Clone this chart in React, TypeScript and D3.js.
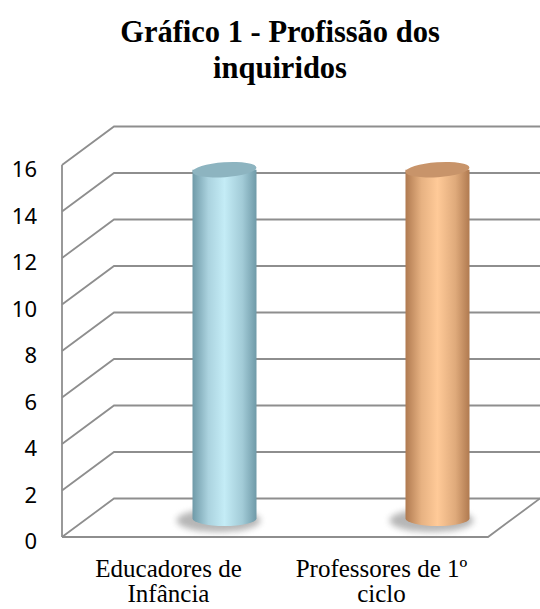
import React from 'react';
import * as d3 from 'd3';

const WIDTH = 540;
const HEIGHT = 609;

const categories = ['Educadores de Infância', 'Professores de 1º ciclo'];
const categoryLines = [
  ['Educadores de', 'Infância'],
  ['Professores de 1º', 'ciclo'],
];
const values = [15, 15];
const yTicks = [0, 2, 4, 6, 8, 10, 12, 14, 16];
const titleLines = ['Gráfico 1 - Profissão dos', 'inquiridos'];

const bodyColors = [
  { edge: '#6f9aa8', mid: '#c4ecf6', top: '#8db4c0' },
  { edge: '#b07a50', mid: '#ffca98', top: '#c8946a' },
];

// front plane of the plot, and the oblique depth offset to the back wall
const FRONT = { left: 62, right: 488, top: 165, bottom: 537 };
const DEPTH = { dx: 52, dy: -38.5 };
// where the cylinders sit in depth
const BAR_SHIFT = { dx: 56, dy: -18.5 };
const BAR_WIDTH = 64;
const ELLIPSE_RY = 7.5;
const GRID = '#8e8e8e';

export default function App() {
  const yScale = d3.scaleLinear().domain([0, 16]).range([FRONT.bottom, FRONT.top]);
  const xScale = d3.scaleBand().domain(categories).range([FRONT.left, FRONT.right]);

  const grid = yTicks.map((t) => {
    const y = yScale(t);
    return (
      <g key={t}>
        <polyline
          points={`${FRONT.left},${y} ${FRONT.left + DEPTH.dx},${y + DEPTH.dy} ${WIDTH},${y + DEPTH.dy}`}
          fill="none"
          stroke={GRID}
          strokeWidth={1.8}
        />
        <text
          x={37}
          y={y + 3}
          textAnchor="end"
          dominantBaseline="central"
          fontFamily="'Noto Sans', 'Open Sans', sans-serif"
          fontSize={22}
          fill="#000"
        >
          {t}
        </text>
      </g>
    );
  });

  const bars = categories.map((c, i) => {
    const cx = (xScale(c) ?? 0) + xScale.bandwidth() / 2 + BAR_SHIFT.dx;
    const yTop = yScale(values[i]) + BAR_SHIFT.dy;
    const yBot = yScale(0) + BAR_SHIFT.dy;
    const rx = BAR_WIDTH / 2;
    const col = bodyColors[i];
    const body = `M${cx - rx},${yTop} L${cx - rx},${yBot} A${rx},${ELLIPSE_RY} 0 0 0 ${cx + rx},${yBot} L${cx + rx},${yTop} Z`;
    return (
      <g key={c}>
        <defs>
          <linearGradient id={`grad${i}`} x1="0" x2="1" y1="0" y2="0">
            <stop offset="0%" stopColor={col.edge} />
            <stop offset="25%" stopColor={d3.interpolateRgb(col.edge, col.mid)(0.7)} />
            <stop offset="50%" stopColor={col.mid} />
            <stop offset="78%" stopColor={d3.interpolateRgb(col.edge, col.mid)(0.6)} />
            <stop offset="100%" stopColor={col.edge} />
          </linearGradient>
        </defs>
        <ellipse
          cx={cx - 6}
          cy={yBot + 2}
          rx={rx + 10}
          ry={ELLIPSE_RY + 4}
          fill="#7a7a7a"
          opacity={0.55}
          filter="url(#shadowBlur)"
        />
        <path d={body} fill={`url(#grad${i})`} />
        <ellipse
          cx={cx}
          cy={yTop}
          rx={rx}
          ry={ELLIPSE_RY}
          fill={col.top}
          transform={`rotate(-4 ${cx} ${yTop})`}
        />
      </g>
    );
  });

  const labels = categories.map((c, i) => {
    const cx = (xScale(c) ?? 0) + xScale.bandwidth() / 2;
    return (
      <text
        key={c}
        x={cx}
        textAnchor="middle"
        fontFamily="'Liberation Serif', 'Times New Roman', serif"
        fontSize={25}
        fill="#000"
      >
        {categoryLines[i].map((line, j) => (
          <tspan key={j} x={cx} y={577 + j * 25}>
            {line}
          </tspan>
        ))}
      </text>
    );
  });

  return (
    <div>
      <style>{`body{margin:0}`}</style>
      <svg width={WIDTH} height={HEIGHT} style={{ display: 'block', background: '#fff' }}>
        <defs>
          <filter id="shadowBlur" x="-50%" y="-100%" width="200%" height="300%">
            <feGaussianBlur stdDeviation="3" />
          </filter>
        </defs>
        <text
          textAnchor="middle"
          fontFamily="'Liberation Serif', 'Times New Roman', serif"
          fontWeight="bold"
          fontSize={30.5}
          fill="#000"
        >
          {titleLines.map((line, j) => (
            <tspan key={j} x={WIDTH / 2 + 10} y={42 + j * 36}>
              {line}
            </tspan>
          ))}
        </text>
        {grid}
        {/* front axis and floor */}
        <line x1={FRONT.left} x2={FRONT.left} y1={FRONT.top} y2={FRONT.bottom} stroke={GRID} strokeWidth={1.8} />
        <polyline
          points={`${FRONT.left},${FRONT.bottom} ${FRONT.right},${FRONT.bottom} ${FRONT.right + DEPTH.dx},${FRONT.bottom + DEPTH.dy}`}
          fill="none"
          stroke={GRID}
          strokeWidth={1.8}
        />
        {bars}
        {labels}
      </svg>
    </div>
  );
}
